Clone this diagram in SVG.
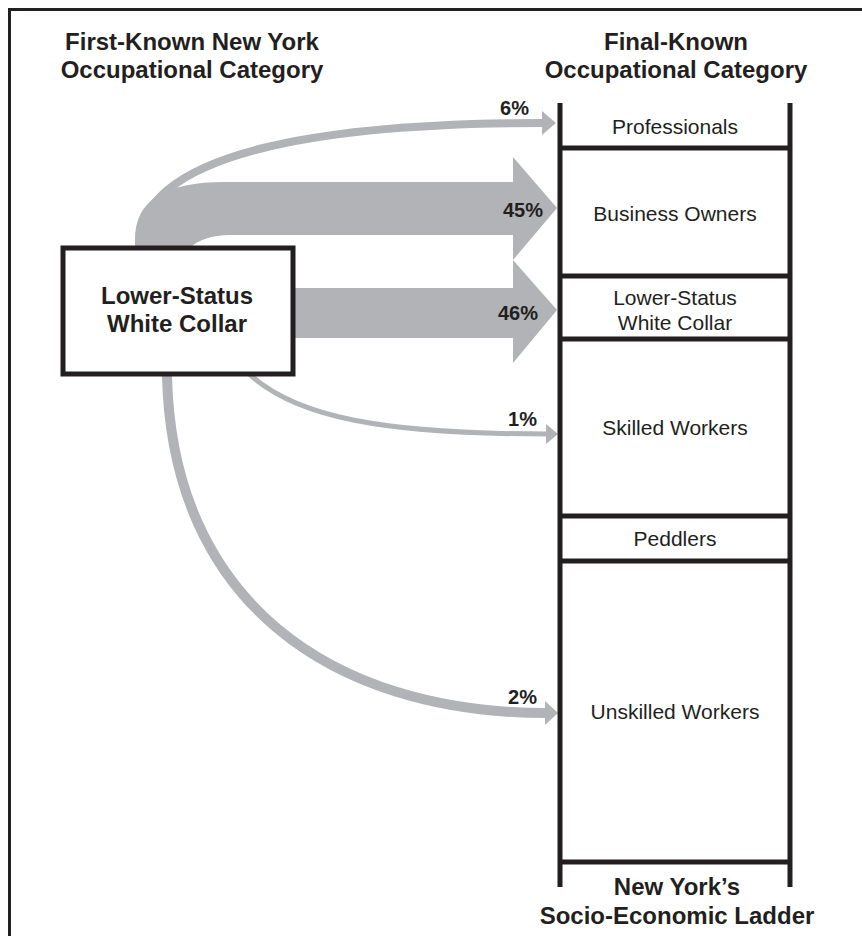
<svg xmlns="http://www.w3.org/2000/svg" width="862" height="936" viewBox="0 0 862 936">
<style>
.frame{fill:none;stroke:#231f20;stroke-width:3}
.rail{stroke:#231f20;stroke-width:5;fill:none}
.rung{stroke:#231f20;stroke-width:5}
.flow{fill:#b1b3b6}
.flowline{fill:none;stroke:#b1b3b6}
.hdr{font-family:"Liberation Sans",Arial,sans-serif;font-weight:bold;font-size:24px;fill:#231f20;text-anchor:middle}
.lbl{font-family:"Liberation Sans",Arial,sans-serif;font-size:21px;fill:#231f20;text-anchor:middle}
.pct{font-family:"Liberation Sans",Arial,sans-serif;font-weight:bold;font-size:20px;fill:#231f20;text-anchor:end}
.box{fill:#fff;stroke:#231f20;stroke-width:5}
</style>
<rect width="862" height="936" fill="#fff"/>
<path class="frame" d="M9.5,936 L9.5,9.5 L862,9.5"/>
<g id="headers">
<text class="hdr" x="192" y="50">First-Known New York</text>
<text class="hdr" x="192" y="78">Occupational Category</text>
<text class="hdr" x="676" y="50">Final-Known</text>
<text class="hdr" x="676" y="78">Occupational Category</text>
</g>
<g id="connectors">
<path class="flowline" stroke-width="8" d="M139,246 C139,150 330,123 543,123"/>
<polygon class="flow" points="542,111 556,123 542,135"/>
<path class="flow" d="M135,247 L135,240 C135,200 165,182 225,182 L513,182 L513,157 L557,208 L513,260 L513,235 L230,235 C212,235 198,240 191,247 Z"/>
<path class="flow" d="M295,288 L513,288 L513,260 L557,310 L513,363 L513,338 L295,338 Z"/>
<path class="flowline" stroke-width="5" d="M247,372 C295,418 385,434 548,434"/>
<polygon class="flow" points="546,424 558,434 546,444"/>
<path class="flowline" stroke-width="10" d="M167,376 C172,600 330,713 546,713"/>
<polygon class="flow" points="545,701 558,713 545,725"/>
<text class="pct" x="529" y="115">6%</text>
<text class="pct" x="543" y="217">45%</text>
<text class="pct" x="538" y="320">46%</text>
<text class="pct" x="537" y="426">1%</text>
<text class="pct" x="537" y="704">2%</text>
</g>
<g id="source">
<rect class="box" x="63" y="248" width="230" height="126"/>
<text class="hdr" x="177" y="304">Lower-Status</text>
<text class="hdr" x="177" y="332">White Collar</text>
</g>
<g id="ladder">
<line class="rail" x1="560" y1="103" x2="560" y2="887"/>
<line class="rail" x1="790" y1="103" x2="790" y2="887"/>
<line class="rung" x1="560" y1="148" x2="790" y2="148"/>
<line class="rung" x1="560" y1="276" x2="790" y2="276"/>
<line class="rung" x1="560" y1="339" x2="790" y2="339"/>
<line class="rung" x1="560" y1="516" x2="790" y2="516"/>
<line class="rung" x1="560" y1="561" x2="790" y2="561"/>
<line class="rung" x1="560" y1="862" x2="790" y2="862"/>
</g>
<g id="cat-professionals"><text class="lbl" x="675" y="134">Professionals</text></g>
<g id="cat-business"><text class="lbl" x="675" y="221">Business Owners</text></g>
<g id="cat-lowerstatus"><text class="lbl" x="675" y="305">Lower-Status</text><text class="lbl" x="675" y="330">White Collar</text></g>
<g id="cat-skilled"><text class="lbl" x="675" y="435">Skilled Workers</text></g>
<g id="cat-peddlers"><text class="lbl" x="675" y="546">Peddlers</text></g>
<g id="cat-unskilled"><text class="lbl" x="675" y="719">Unskilled Workers</text></g>
<g id="ladder-title">
<text class="hdr" x="677" y="895">New York’s</text>
<text class="hdr" x="677" y="924">Socio-Economic Ladder</text>
</g>
</svg>
